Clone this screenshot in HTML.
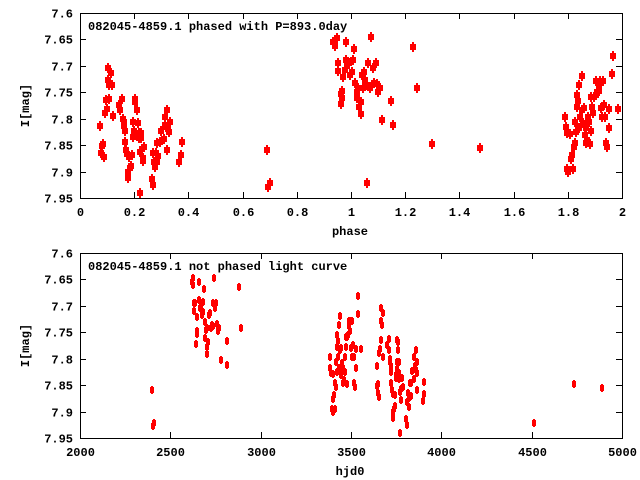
<!DOCTYPE html>
<html><head><meta charset="utf-8"><style>
body{margin:0;background:#fff}
svg{display:block}
text{font-family:"Liberation Mono",monospace;font-weight:bold;font-size:12px;fill:#000}
</style></head><body>
<svg id="s" width="640" height="480" xmlns="http://www.w3.org/2000/svg">
<rect width="640" height="480" fill="#fff"/>
<g id="g"></g>
</svg>
<script>
(function(){
var NS="http://www.w3.org/2000/svg",G=document.getElementById('g');
function el(t,a,txt){var e=document.createElementNS(NS,t);for(var k in a)e.setAttribute(k,a[k]);if(txt!==undefined)e.textContent=txt;G.appendChild(e);return e;}
var L=80,R=622;
function axes(T,B,xt,xlab,title,xl){
  el('rect',{x:L+.5,y:T+.5,width:R-L,height:B-T,fill:'none',stroke:'#000','stroke-width':1});
  var yl=['7.6','7.65','7.7','7.75','7.8','7.85','7.9','7.95'];
  for(var i=0;i<8;i++){var y=Math.round(T+i*(B-T)/7)+.5;
    el('line',{x1:L,y1:y,x2:L+6,y2:y,stroke:'#000'});el('line',{x1:R-6,y1:y,x2:R,y2:y,stroke:'#000'});
    el('text',{x:73,y:y+4,'text-anchor':'end'},yl[i]);}
  var n=xt.length;
  for(var j=0;j<n;j++){var x=Math.round(L+j*(R-L)/(n-1))+.5;
    el('line',{x1:x,y1:B,x2:x,y2:B-6,stroke:'#000'});el('line',{x1:x,y1:T,x2:x,y2:T+6,stroke:'#000'});
    el('text',{x:x,y:B+18,'text-anchor':'middle'},xt[j]);}
  el('text',{x:xl,y:B+37,'text-anchor':'middle'},xlab);
  el('text',{x:88,y:T+17},title);
  el('text',{x:0,y:0,'text-anchor':'middle',transform:'translate(29,'+((T+B)/2)+') rotate(-90)'},'I[mag]');
}
axes(13,198,['0','0.2','0.4','0.6','0.8','1','1.2','1.4','1.6','1.8','2'],'phase','082045-4859.1 phased with P=893.0day',350);
axes(253,438,['2000','2500','3000','3500','4000','4500','5000'],'hjd0','082045-4859.1 not phased light curve',350);
var PT=[[100,126],[101,153],[102,146],[103,144],[104,157],[105,113],[106,100],[107,109],[108,68],[108,80],[109,85],[111,73],[112,85],[109,99],[113,116],[119,105],[120,110],[122,99],[123,119],[124,126],[124,122],[125,131],[125,142],[126,150],[127,154],[128,172],[128,178],[129,157],[130,168],[131,166],[132,155],[133,137],[133,122],[134,131],[135,99],[135,102],[137,110],[138,123],[139,133],[139,138],[140,152],[141,133],[141,138],[142,149],[143,158],[143,161],[144,147],[140,193],[152,179],[153,185],[153,153],[154,162],[155,167],[156,153],[157,162],[157,143],[158,156],[160,142],[161,131],[164,139],[165,117],[165,125],[167,110],[168,129],[169,132],[170,122],[167,150],[179,162],[181,155],[182,142],[267,150],[268,187],[270,183],
[333,42],[335,46],[337,38],[346,42],[354,49],[371,37],[338,63],[338,71],[341,94],[342,91],[342,98],[341,104],[343,77],[345,70],[346,60],[347,66],[349,63],[350,75],[352,72],[353,60],[355,83],[357,98],[357,92],[358,88],[359,107],[361,114],[361,102],[362,75],[363,88],[364,72],[365,80],[367,85],[368,63],[370,88],[372,85],[373,68],[374,83],[376,63],[377,84],[378,92],[380,88],[382,120],[391,101],[393,125],[367,183],[413,47],[417,88],[432,144],[480,148],
[565,117],[566,127],[567,133],[567,169],[568,172],[570,134],[571,159],[572,155],[573,169],[574,147],[575,143],[575,122],[576,132],[577,107],[577,95],[578,101],[579,128],[579,85],[580,117],[582,110],[582,76],[583,123],[584,108],[585,135],[586,128],[586,143],[587,140],[588,117],[589,122],[590,144],[591,97],[591,131],[592,107],[593,113],[594,97],[596,95],[596,81],[597,92],[599,86],[599,91],[600,81],[601,108],[602,117],[603,81],[604,105],[605,117],[606,143],[607,147],[609,109],[609,128],[612,74],[613,56],[618,109]];
var PB=[[152,390],[153,426],[154,423],[192,282],[193,285],[193,278],[194,303],[194,311],[195,303],[197,334],[197,331],[196,344],[197,317],[199,282],[199,300],[200,308],[201,305],[202,315],[203,302],[203,312],[204,289],[205,322],[205,338],[206,330],[207,328],[207,347],[207,354],[208,342],[209,315],[210,313],[211,328],[212,325],[213,303],[213,326],[214,278],[215,308],[216,303],[217,324],[218,331],[219,328],[221,360],[227,341],[227,365],[239,287],[241,328],
[330,357],[330,368],[331,373],[332,409],[333,412],[333,374],[333,399],[334,395],[335,409],[335,383],[336,387],[336,362],[337,372],[337,347],[337,335],[338,341],[338,357],[339,325],[339,368],[340,350],[340,316],[341,348],[341,375],[342,363],[343,368],[343,383],[344,380],[345,357],[345,372],[346,337],[346,347],[347,384],[347,337],[348,335],[349,321],[349,326],[350,331],[351,321],[351,348],[352,357],[352,321],[353,345],[354,357],[354,383],[355,387],[356,349],[356,368],[358,314],[358,296],[361,349],
[377,366],[377,386],[378,384],[378,393],[379,397],[379,353],[380,349],[381,340],[381,321],[381,308],[382,325],[383,313],[383,357],[387,345],[389,350],[389,339],[390,359],[390,362],[391,366],[391,372],[391,383],[392,390],[393,394],[393,412],[393,418],[394,409],[395,395],[395,406],[396,378],[396,375],[397,369],[397,362],[397,340],[398,342],[398,350],[399,362],[399,373],[399,379],[400,392],[400,433],[401,389],[401,400],[402,378],[403,387],[406,419],[407,402],[407,425],[408,393],[409,398],[409,407],[410,383],[411,396],[411,383],[412,371],[414,379],[414,357],[415,366],[416,350],[416,370],[417,390],[417,362],[417,373],[423,401],[424,394],[424,382],[534,423],[574,384],[602,388]];
PT.forEach(function(p){var x=p[0],y=p[1];el('rect',{x:x-3,y:y-3,width:6,height:6,fill:'#f00'});el('rect',{x:x-1,y:y-5,width:2,height:10,fill:'#f00'});});
PB.forEach(function(p){var x=p[0],y=p[1];el('rect',{x:x-2,y:y-3,width:4,height:6,fill:'#f00'});el('rect',{x:x-1,y:y-4,width:2,height:8,fill:'#f00'});});
})();
</script>
</body></html>
